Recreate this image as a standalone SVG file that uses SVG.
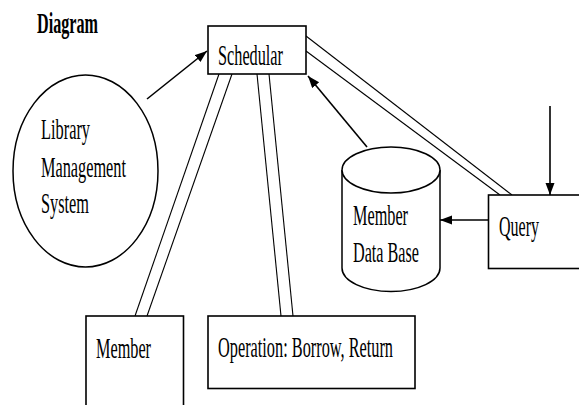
<svg xmlns="http://www.w3.org/2000/svg" width="579" height="405" viewBox="0 0 579 405">
<defs>
<style>
.box{fill:#fff;stroke:#000;stroke-width:1.6}
.txt{font-family:"Liberation Serif","Times New Roman",serif;font-size:30px;fill:#000}
.bold{font-weight:bold}
.dbl{stroke:#000;stroke-width:1.1;fill:none}
.arr{stroke:#000;stroke-width:1.6;fill:none;marker-end:url(#ah)}
</style>
<marker id="ah" markerUnits="userSpaceOnUse" markerWidth="13" markerHeight="10" refX="12" refY="4.5" orient="auto">
<path d="M0,0 L12,4.5 L0,9 z" fill="#000"/>
</marker>
</defs>
<rect width="579" height="405" fill="#fff"/>
<text class="txt bold" x="37" y="33" textLength="61" lengthAdjust="spacingAndGlyphs">Diagram</text>
<g id="connectors">
<line class="dbl" x1="219" y1="74" x2="135" y2="316"/>
<line class="dbl" x1="232" y1="74" x2="147" y2="316"/>
<line class="dbl" x1="257" y1="74" x2="281" y2="316"/>
<line class="dbl" x1="269" y1="74" x2="293" y2="316"/>
<line class="dbl" x1="306" y1="36" x2="512" y2="195"/>
<line class="dbl" x1="306" y1="51" x2="500" y2="195"/>
<line class="arr" x1="147" y1="99" x2="207" y2="51"/>
<line class="arr" x1="367" y1="147" x2="308" y2="76"/>
<line class="arr" x1="488" y1="220" x2="440" y2="220"/>
<line class="arr" x1="550" y1="106" x2="550" y2="195"/>
</g>
<g id="schedular">
<rect class="box" x="208" y="26" width="98" height="48"/>
<text class="txt" x="218" y="65" textLength="65" lengthAdjust="spacingAndGlyphs">Schedular</text>
</g>
<g id="library">
<ellipse cx="85.5" cy="171" rx="72.5" ry="96" fill="#fff" stroke="#000" stroke-width="1.5"/>
<text class="txt" x="41" y="139" textLength="49" lengthAdjust="spacingAndGlyphs">Library</text>
<text class="txt" x="41" y="177" textLength="85" lengthAdjust="spacingAndGlyphs">Management</text>
<text class="txt" x="41" y="213" textLength="48" lengthAdjust="spacingAndGlyphs">System</text>
</g>
<g id="database">
<path d="M342,170 L342,268 A49,23.5 0 0 0 440,268 L440,170" fill="#fff" stroke="#000" stroke-width="1.5"/>
<ellipse cx="391" cy="170" rx="49" ry="23" fill="#fff" stroke="#000" stroke-width="1.5"/>
<text class="txt" x="353" y="225" textLength="55" lengthAdjust="spacingAndGlyphs">Member</text>
<text class="txt" x="353" y="262" textLength="66" lengthAdjust="spacingAndGlyphs">Data Base</text>
</g>
<g id="query">
<rect class="box" x="488.5" y="195" width="100" height="73.5"/>
<text class="txt" x="499" y="236" textLength="40" lengthAdjust="spacingAndGlyphs">Query</text>
</g>
<g id="member">
<rect class="box" x="86" y="316" width="97.5" height="100"/>
<text class="txt" x="96" y="358" textLength="55" lengthAdjust="spacingAndGlyphs">Member</text>
</g>
<g id="operation">
<rect class="box" x="208" y="316" width="207" height="72.5"/>
<text class="txt" x="218" y="357" textLength="175" lengthAdjust="spacingAndGlyphs">Operation: Borrow, Return</text>
</g>
</svg>
